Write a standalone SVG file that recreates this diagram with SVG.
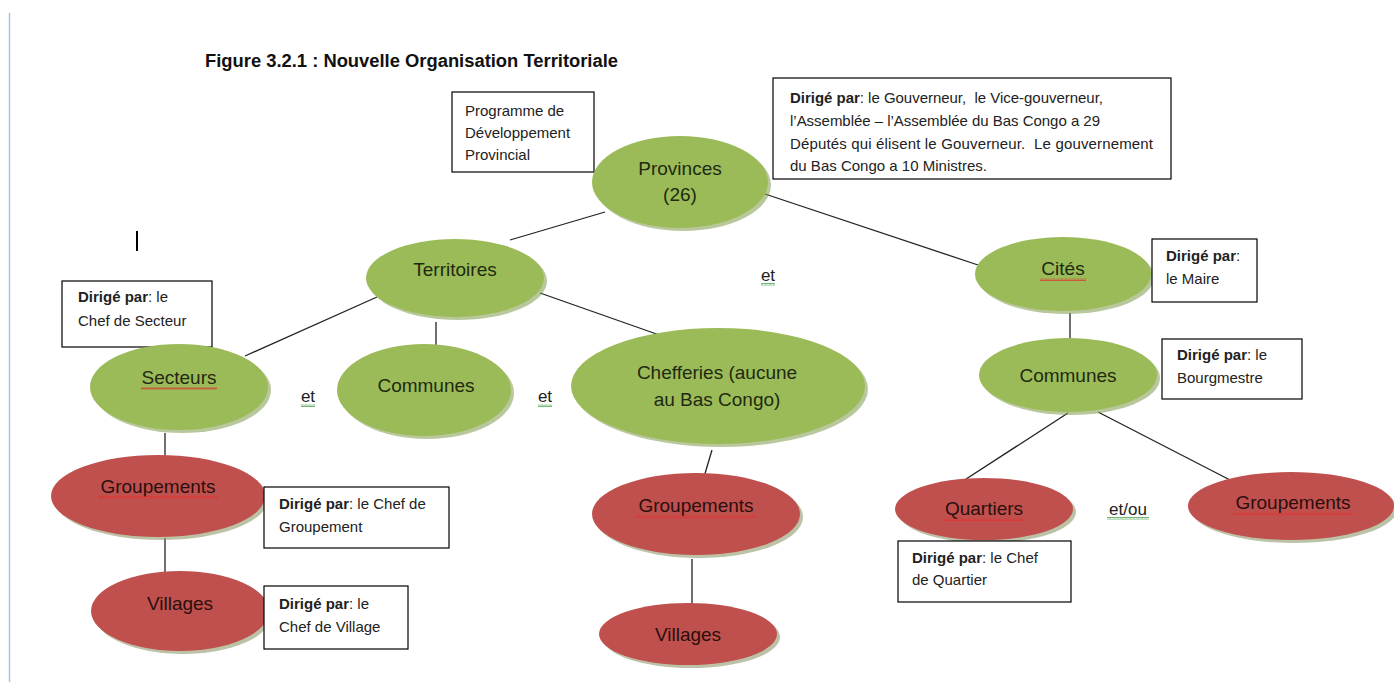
<svg xmlns="http://www.w3.org/2000/svg" width="1394" height="682" viewBox="0 0 1394 682">
<style>
.title{font-family:"Liberation Sans",Arial,sans-serif;font-size:18px;font-weight:bold;fill:#111}
.nt{font-family:"Liberation Sans",Arial,sans-serif;font-size:19px;fill:#1f2a10;text-anchor:middle}
.rt{font-family:"Liberation Sans",Arial,sans-serif;font-size:19px;fill:#2a0f0e;text-anchor:middle}
.bt{font-family:"Liberation Sans",Arial,sans-serif;font-size:15px;fill:#222}
.bt .b{font-weight:bold}
.et{font-family:"Liberation Sans",Arial,sans-serif;font-size:17px;fill:#222;text-anchor:middle}
.box{fill:#fff;stroke:#000;stroke-width:1.2}
.g{fill:#9bbb59}
.r{fill:#c0504d}
.gs{fill:#7f9a4a;opacity:.55}
.rs{fill:#8f9a6a;opacity:.6}
.ln{stroke:#222;stroke-width:1.3;fill:none}
</style>
<defs>
<pattern id="sqR" width="4" height="3" patternUnits="userSpaceOnUse"><path d="M0 2.5 L1 0.5 L2 2.5 L3 0.5 L4 2.5" stroke="#e03030" stroke-width="0.7" fill="none"/></pattern>
<pattern id="sqG" width="4" height="3" patternUnits="userSpaceOnUse"><path d="M0 2.5 L1 0.5 L2 2.5 L3 0.5 L4 2.5" stroke="#3a9a3a" stroke-width="0.7" fill="none"/></pattern>
</defs>
<rect width="1394" height="682" fill="#fff"/>
<line x1="9.5" y1="13" x2="9.5" y2="682" stroke="#a9c6ea" stroke-width="1.5"/>
<text class="title" x="205" y="67" textLength="413" lengthAdjust="spacingAndGlyphs">Figure 3.2.1 : Nouvelle Organisation Territoriale</text>
<line x1="137" y1="231" x2="137" y2="251" stroke="#000" stroke-width="2"/>

<g id="connectors">
<line class="ln" x1="605" y1="212" x2="510" y2="240"/>
<line class="ln" x1="765" y1="194" x2="978" y2="265"/>
<line class="ln" x1="377" y1="297" x2="245" y2="356"/>
<line class="ln" x1="436" y1="322" x2="436" y2="348"/>
<line class="ln" x1="540" y1="293" x2="665" y2="337"/>
<line class="ln" x1="712" y1="450" x2="704" y2="477"/>
<line class="ln" x1="692" y1="559" x2="692" y2="605"/>
<line class="ln" x1="165" y1="433" x2="165" y2="457"/>
<line class="ln" x1="165" y1="538" x2="165" y2="573"/>
<line class="ln" x1="1070" y1="313" x2="1070" y2="346"/>
<line class="ln" x1="1068" y1="413" x2="963" y2="481"/>
<line class="ln" x1="1098" y1="412" x2="1232" y2="481"/>
</g>

<g id="programme"><rect class="box" x="452" y="92" width="142" height="80"/>
<text class="bt" x="465" y="116">Programme de</text><text class="bt" x="465" y="138">Développement</text><text class="bt" x="465" y="160">Provincial</text></g>

<g id="provinces"><ellipse class="gs" cx="683" cy="185" rx="88" ry="46"/><ellipse class="g" cx="680" cy="182" rx="88" ry="46"/>
<text class="nt" x="680" y="175">Provinces</text><text class="nt" x="680" y="201">(26)</text></g>

<g id="gouverneur"><rect class="box" x="773" y="78" width="398" height="101"/>
<text class="bt" x="790" y="103" textLength="313"><tspan class="b">Dirigé par</tspan>: le Gouverneur,&#160; le Vice-gouverneur,</text>
<text class="bt" x="790" y="126" textLength="310">l’Assemblée – l’Assemblée du Bas Congo a 29</text>
<text class="bt" x="790" y="149" textLength="363">Députés qui élisent le Gouverneur.&#160; Le gouvernement</text>
<text class="bt" x="790" y="171" textLength="197">du Bas Congo a 10 Ministres.</text></g>

<g id="territoires"><ellipse class="gs" cx="458" cy="281" rx="89" ry="39"/><ellipse class="g" cx="455" cy="278" rx="89" ry="39"/>
<text class="nt" x="455" y="276">Territoires</text></g>

<text class="et" x="768" y="281">et</text>
<rect x="761" y="283" width="14" height="3" fill="url(#sqG)"/>

<g id="cites"><ellipse class="gs" cx="1066" cy="277" rx="88" ry="37"/><ellipse class="g" cx="1063" cy="274" rx="88" ry="37"/>
<text class="nt" x="1063" y="275">Cités</text><rect x="1040" y="278" width="46" height="3" fill="url(#sqR)"/></g>
<g id="maire"><rect class="box" x="1152" y="239" width="105" height="63"/>
<text class="bt" x="1166" y="261"><tspan class="b">Dirigé par</tspan>:</text><text class="bt" x="1166" y="284">le Maire</text></g>

<g id="communes-r"><ellipse class="gs" cx="1071" cy="378" rx="89" ry="37"/><ellipse class="g" cx="1068" cy="375" rx="89" ry="37"/>
<text class="nt" x="1068" y="382">Communes</text></g>
<g id="bourgmestre"><rect class="box" x="1162" y="339" width="140" height="60"/>
<text class="bt" x="1177" y="360"><tspan class="b">Dirigé par</tspan>: le</text><text class="bt" x="1177" y="383">Bourgmestre</text></g>

<g id="quartiers"><ellipse class="rs" cx="987" cy="512" rx="89" ry="31"/><ellipse class="r" cx="984" cy="509" rx="89" ry="31"/>
<text class="rt" x="984" y="515">Quartiers</text><rect x="943" y="518" width="82" height="3" fill="url(#sqR)"/></g>
<text class="et" x="1128" y="515">et/ou</text>
<rect x="1107" y="517" width="42" height="3" fill="url(#sqG)"/>
<g id="quartier-box"><rect class="box" x="898" y="541" width="173" height="61"/>
<text class="bt" x="912" y="563"><tspan class="b">Dirigé par</tspan>: le Chef</text><text class="bt" x="912" y="585">de Quartier</text></g>

<g id="groupements-r"><ellipse class="rs" cx="1294" cy="509" rx="103" ry="34"/><ellipse class="r" cx="1291" cy="506" rx="103" ry="34"/>
<text class="rt" x="1293" y="509">Groupements</text><rect x="1233" y="512" width="120" height="3" fill="url(#sqR)"/></g>

<g id="secteur-box"><rect class="box" x="62" y="281" width="150" height="66"/>
<text class="bt" x="78" y="302"><tspan class="b">Dirigé par</tspan>: le</text><text class="bt" x="78" y="326">Chef de Secteur</text></g>

<g id="secteurs"><ellipse class="gs" cx="182" cy="390" rx="89" ry="43"/><ellipse class="g" cx="179" cy="387" rx="89" ry="43"/>
<text class="nt" x="179" y="384">Secteurs</text><rect x="141" y="387" width="76" height="3" fill="url(#sqR)"/></g>
<text class="et" x="308" y="402">et</text>
<rect x="301" y="404" width="14" height="3" fill="url(#sqG)"/>

<g id="communes-m"><ellipse class="gs" cx="427" cy="393" rx="87" ry="46"/><ellipse class="g" cx="424" cy="390" rx="87" ry="46"/>
<text class="nt" x="426" y="392">Communes</text></g>
<text class="et" x="545" y="402">et</text>
<rect x="538" y="404" width="14" height="3" fill="url(#sqG)"/>

<g id="chefferies"><ellipse class="gs" cx="721" cy="389" rx="147" ry="58"/><ellipse class="g" cx="718" cy="386" rx="147" ry="58"/>
<text class="nt" x="717" y="379">Chefferies (aucune</text><text class="nt" x="717" y="406">au Bas Congo)</text></g>

<g id="groupements-m"><ellipse class="rs" cx="699" cy="517" rx="104" ry="41"/><ellipse class="r" cx="696" cy="514" rx="104" ry="41"/>
<text class="rt" x="696" y="512">Groupements</text><rect x="636" y="515" width="120" height="3" fill="url(#sqR)"/></g>

<g id="villages-m"><ellipse class="rs" cx="691" cy="637" rx="89" ry="31"/><ellipse class="r" cx="688" cy="634" rx="89" ry="31"/>
<text class="rt" x="688" y="641">Villages</text></g>

<g id="groupements-l"><ellipse class="rs" cx="161" cy="499" rx="107" ry="41"/><ellipse class="r" cx="158" cy="496" rx="107" ry="41"/>
<text class="rt" x="158" y="493">Groupements</text><rect x="98" y="496" width="120" height="3" fill="url(#sqR)"/></g>
<g id="groupement-box"><rect class="box" x="264" y="487" width="185" height="61"/>
<text class="bt" x="279" y="509"><tspan class="b">Dirigé par</tspan>: le Chef de</text><text class="bt" x="279" y="532">Groupement</text></g>

<g id="villages-l"><ellipse class="rs" cx="183" cy="614" rx="89" ry="40"/><ellipse class="r" cx="180" cy="611" rx="89" ry="40"/>
<text class="rt" x="180" y="610">Villages</text></g>
<g id="village-box"><rect class="box" x="264" y="586" width="144" height="63"/>
<text class="bt" x="279" y="609"><tspan class="b">Dirigé par</tspan>: le</text><text class="bt" x="279" y="632">Chef de Village</text></g>
</svg>
